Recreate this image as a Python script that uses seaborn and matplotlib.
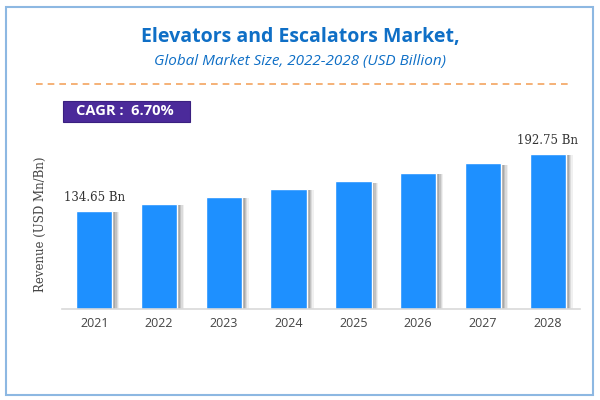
import numpy as np
import pandas as pd
import seaborn as sns
import matplotlib.pyplot as plt
import matplotlib.patheffects as pe
from matplotlib.patches import Rectangle
from matplotlib.lines import Line2D

# Market size values (USD Bn)
years = ['2021', '2022', '2023', '2024', '2025', '2026', '2027', '2028']
revenue = [134.65, 141.8, 149.2, 157.1, 164.9, 173.4, 183.3, 192.75]
label_idx = [0, 7]  # only first and last bars carry a value label

sns.set_theme(style='white')
plt.rcParams['font.family'] = ['Open Sans', 'DejaVu Sans']

df = pd.DataFrame({'year': years, 'revenue': revenue})

fig = plt.figure(figsize=(6, 4), dpi=100)
ax = fig.add_axes([0.103, 0.2275, 0.864, 0.4225])

sns.barplot(data=df, x='year', y='revenue', color='#1E90FF', saturation=1,
            width=0.56, ax=ax)
# soft drop shadow on the right side of each bar
shadow = [pe.SimplePatchShadow(offset=(k, -1), shadow_rgbFace='#444444', alpha=a)
          for k, a in [(5, 0.08), (4, 0.12), (3, 0.16), (2, 0.2)]]
for bar in ax.patches:
    bar.set_path_effects(shadow + [pe.Normal()])

ax.set_ylim(34.75, 207)
ax.set_xlim(-0.5, 7.5)
ax.set_yticks([])
ax.set_xlabel('')
ax.set_ylabel('Revenue (USD Mn/Bn)', family='DejaVu Serif', fontsize=8.5, color='#444444', labelpad=11)
for s in ['top', 'right', 'left']:
    ax.spines[s].set_visible(False)
ax.spines['bottom'].set_color('#d9d9d9')
ax.spines['bottom'].set_linewidth(1.2)
ax.tick_params(axis='x', length=0, pad=6, labelsize=9, labelcolor='#444444')

for i in label_idx:
    ax.annotate(f'{revenue[i]:.2f} Bn', (i, revenue[i]), xytext=(0, 5), textcoords='offset points',
                ha='center', va='bottom', family='DejaVu Serif', fontsize=8.5, color='#333333')

# Title block
fig.text(0.5, 0.907, 'Elevators and Escalators Market,', ha='center', va='center',
         fontsize=14, fontweight='bold', color='#0F6FC6')
fig.text(0.5, 0.845, 'Global Market Size, 2022-2028 (USD Billion)', ha='center', va='center',
         fontsize=11, style='italic', color='#0F6FC6')

# Dashed separator
fig.add_artist(Line2D([0.06, 0.947], [0.79, 0.79], transform=fig.transFigure,
                      color='#F4A460', linestyle=(0, (4, 3)), linewidth=1.2))

# CAGR badge
fig.add_artist(Rectangle((0.105, 0.695), 0.212, 0.053, transform=fig.transFigure,
                         facecolor='#4B2A9A', edgecolor='#3a2080', linewidth=0.8))
fig.text(0.126, 0.722, 'CAGR :  6.70%', ha='left', va='center', fontsize=10.5,
         fontweight='bold', color='white')

# Outer frame
fig.add_artist(Rectangle((0.01, 0.013), 0.978, 0.97, transform=fig.transFigure,
                         fill=False, edgecolor='#8DB8E2', linewidth=1.5))

fig.savefig('out.png', dpi=100)
